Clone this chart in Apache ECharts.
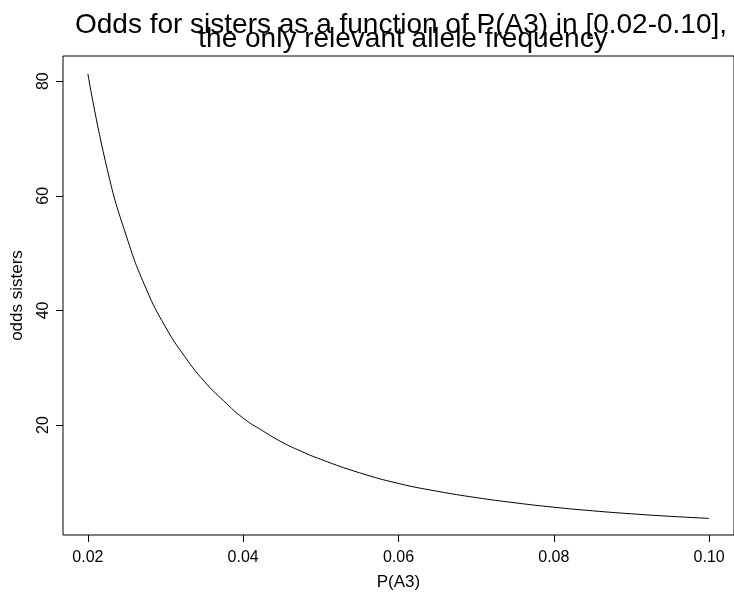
<!DOCTYPE html>
<html>
<head>
<meta charset="utf-8">
<script src="https://cdn.jsdelivr.net/npm/echarts@6/dist/echarts.min.js"></script>
<style>
  html, body { margin: 0; padding: 0; background: #fff; }
  #chart { width: 734px; height: 596px; }
</style>
</head>
<body>
<div id="chart"></div>
<script>
// allele frequency P(A3) and odds for sisters
const freqA3 = [0.0200, 0.0225, 0.0250, 0.0275, 0.0300, 0.0325, 0.0350, 0.0375, 0.0400,
  0.0425, 0.0450, 0.0475, 0.0500, 0.0550, 0.0600, 0.0650, 0.0700, 0.0750, 0.0800,
  0.0850, 0.0900, 0.0950, 0.1000];
const oddsSisters = [81.3, 64.6, 52.8, 43.8, 37.1, 31.9, 27.6, 24.2, 21.2,
  19.0, 17.0, 15.4, 14.0, 11.65, 9.8, 8.43, 7.33, 6.42, 5.65,
  5.02, 4.5, 4.06, 3.7];
const xTicks = [0.02, 0.04, 0.06, 0.08, 0.10];
const yTicks = [20, 40, 60, 80];

const chart = echarts.init(document.getElementById('chart'));
const font = 'Liberation Sans, Arial, Helvetica, sans-serif';

chart.setOption({
  animation: false,
  backgroundColor: '#fff',
  graphic: [{
    type: 'text',
    x: 401, y: 39,
    style: {
      text: 'Odds for sisters as a function of P(A3) in [0.02-0.10],',
      font: '28px ' + font,
      align: 'center', verticalAlign: 'bottom',
      fill: '#000'
    }
  }, {
    type: 'text',
    x: 403, y: 53,
    style: {
      text: 'the only relevant allele frequency',
      font: '28px ' + font,
      align: 'center', verticalAlign: 'bottom',
      fill: '#000'
    }
  }],
  grid: {
    left: 63, top: 56, width: 677, height: 479,
    show: true, borderColor: '#000', borderWidth: 1
  },
  xAxis: {
    type: 'value',
    min: 0.0168, max: 0.1032,
    name: 'P(A3)',
    nameLocation: 'middle',
    nameGap: 39,
    nameTextStyle: { color: '#000', fontSize: 17, fontFamily: font },
    axisLine: { show: false },
    splitLine: { show: false },
    axisTick: { show: true, length: 7, lineStyle: { color: '#000' }, customValues: xTicks },
    axisLabel: {
      color: '#000', fontSize: 16, fontFamily: font, margin: 15,
      customValues: xTicks,
      formatter: v => v.toFixed(2)
    }
  },
  yAxis: {
    type: 'value',
    min: 0.8, max: 84.4,
    name: 'odds sisters',
    nameLocation: 'middle',
    nameGap: 37,
    nameTextStyle: { color: '#000', fontSize: 17, fontFamily: font },
    axisLine: { show: false },
    splitLine: { show: false },
    axisTick: { show: true, length: 7, lineStyle: { color: '#000' }, customValues: yTicks },
    axisLabel: {
      color: '#000', fontSize: 16, fontFamily: font, margin: 11, rotate: 90,
      customValues: yTicks
    }
  },
  series: [{
    type: 'line',
    data: freqA3.map((p, i) => [p, oddsSisters[i]]),
    smooth: true,
    showSymbol: false,
    lineStyle: { color: '#000', width: 1 }
  }]
});
</script>
</body>
</html>
